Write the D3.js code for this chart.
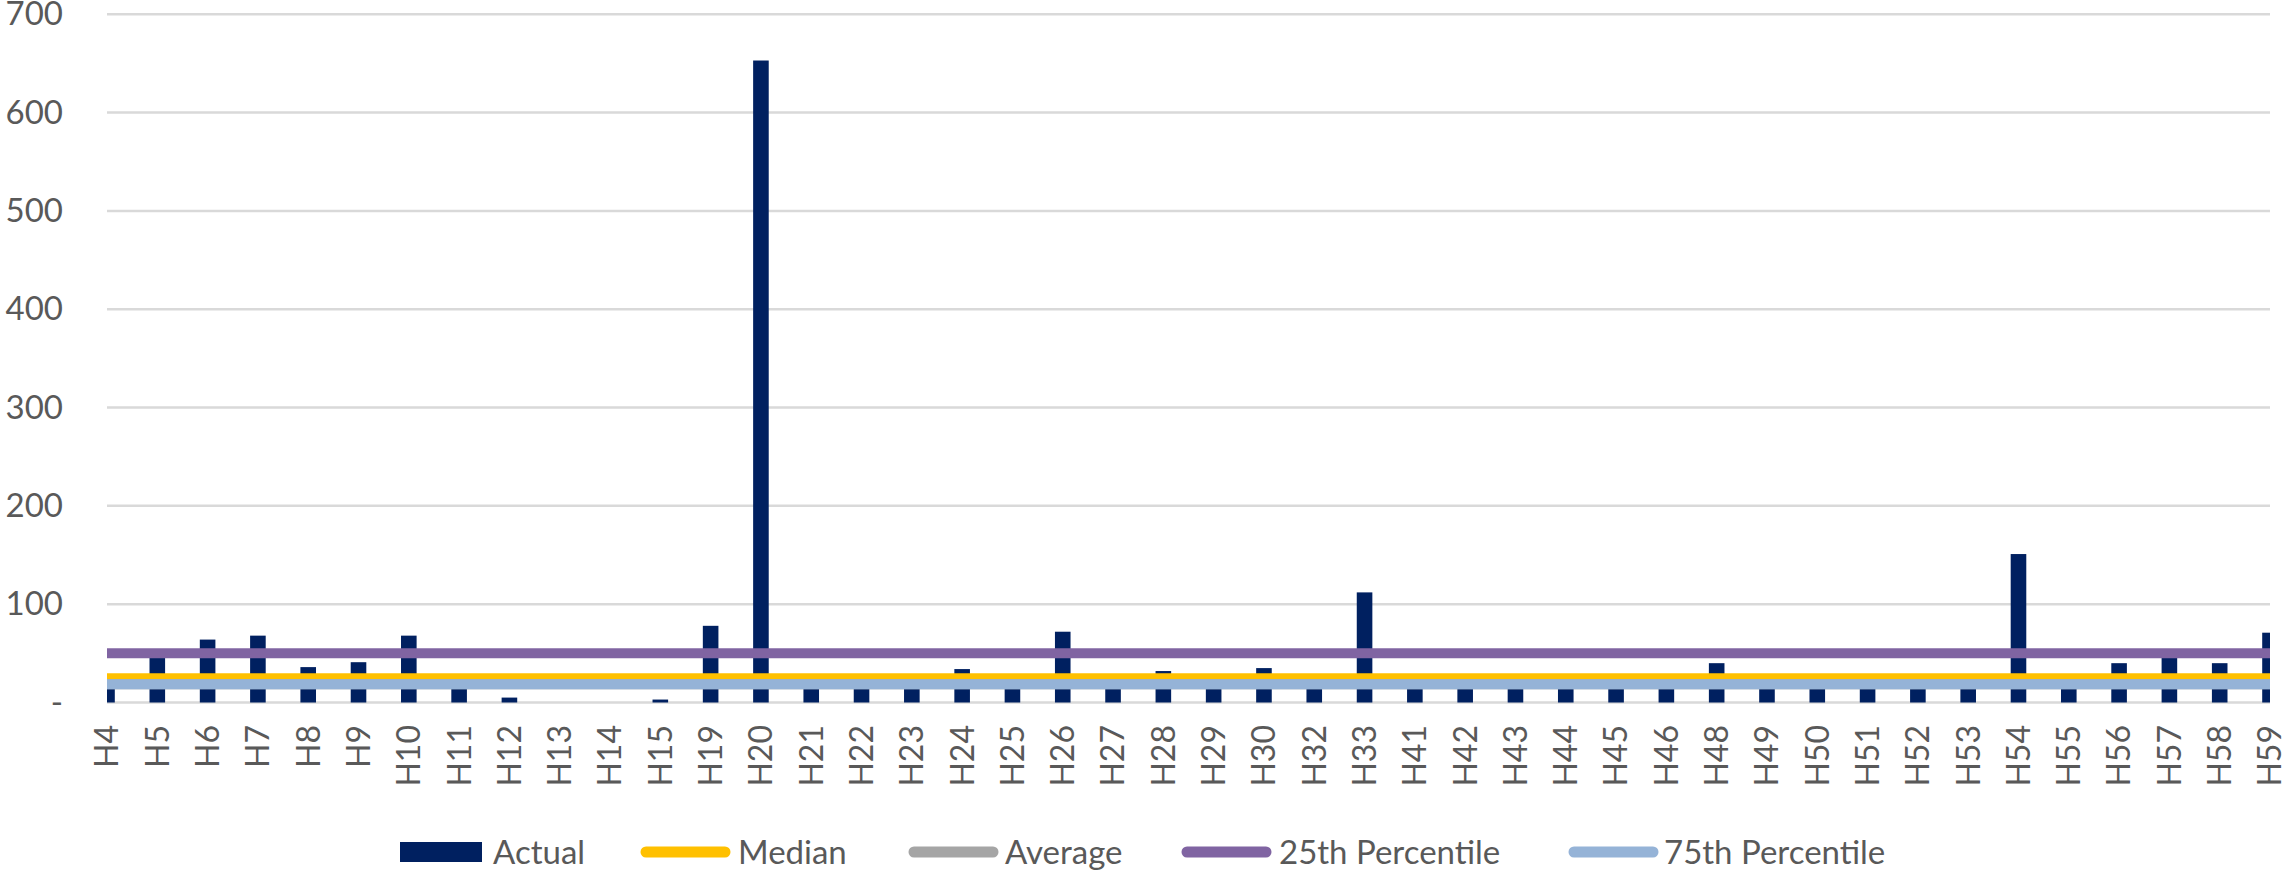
<!DOCTYPE html>
<html>
<head>
<meta charset="utf-8">
<script src="https://cdn.jsdelivr.net/npm/d3@7"></script>
<style>
  html, body { margin: 0; padding: 0; background: #ffffff; }
  svg { display: block; }
  text { font-family: Lato, "Open Sans", sans-serif; fill: #595959; }
</style>
</head>
<body>
<svg id="chart" width="2285" height="875"></svg>
<script>
// ---- data ----
const categories = ["H4","H5","H6","H7","H8","H9","H10","H11","H12","H13","H14","H15",
  "H19","H20","H21","H22","H23","H24","H25","H26","H27","H28","H29","H30",
  "H32","H33","H41","H42","H43","H44","H45","H46",
  "H48","H49","H50","H51","H52","H53","H54","H55","H56","H57","H58","H59"];
const actual = [22,50,64,68,36,41,68,22,5,0,0,3,
  78,653,22,22,22,34,22,72,22,32,22,35,
  22,112,22,22,22,22,22,22,
  40,22,22,22,22,22,151,22,40,48,40,71];
const median = 24.6;
const average = 18.5;
const pct25 = 50;
const pct75 = 18.5;
const yTicks = [0,100,200,300,400,500,600,700];
const legendLabels = ["Actual","Median","Average","25th Percentile","75th Percentile"];

// ---- layout ----
const svg = d3.select("#chart");
const plotLeft = 107, plotRight = 2270, plotTop = 14.3, plotBottom = 702.5;
const x = d3.scalePoint().domain(categories).range([plotLeft, plotRight]);
const y = d3.scaleLinear().domain([0, 700]).range([plotBottom, plotTop]);
const barW = x.step() * 0.31;

const colors = {
  actual: "#002060", median: "#FFC000", average: "#A5A5A5",
  p25: "#8064A2", p75: "#95B3D7"
};

svg.append("defs").append("clipPath").attr("id", "plotClip")
  .append("rect").attr("x", plotLeft).attr("y", 0).attr("width", plotRight - plotLeft).attr("height", 875);

// gridlines
svg.append("g").selectAll("line").data(yTicks).join("line")
  .attr("x1", plotLeft).attr("x2", plotRight)
  .attr("y1", d => y(d)).attr("y2", d => y(d))
  .attr("stroke", "#D9D9D9").attr("stroke-width", 2.5);

// y axis labels
const yAxis = d3.axisLeft(y).tickValues(yTicks).tickSize(0).tickPadding(0)
  .tickFormat(d => d === 0 ? "-" : d);
const yg = svg.append("g").attr("transform", "translate(63,0)").call(yAxis);
yg.select(".domain").remove();
yg.selectAll("text").attr("font-size", 33).attr("fill", "#595959")
  .style("font-family", "Lato, 'Open Sans', sans-serif");

// bars
svg.append("g").attr("clip-path", "url(#plotClip)")
  .selectAll("rect").data(categories).join("rect")
  .attr("x", (d) => x(d) - barW / 2)
  .attr("width", barW)
  .attr("y", (d, i) => y(actual[i]))
  .attr("height", (d, i) => y(0) - y(actual[i]))
  .attr("fill", colors.actual);

// horizontal reference series
const refSeries = [
  { v: median, c: colors.median },
  { v: average, c: colors.average },
  { v: pct25, c: colors.p25 },
  { v: pct75, c: colors.p75 }
];
const lineGen = d3.line().x(d => x(d.cat)).y(d => y(d.v));
svg.append("g").selectAll("path").data(refSeries).join("path")
  .attr("d", s => lineGen(categories.map(cat => ({ cat, v: s.v }))))
  .attr("fill", "none").attr("stroke", s => s.c).attr("stroke-width", 10);

// x axis labels
const xAxis = d3.axisBottom(x).tickSize(0).tickPadding(0);
const xg = svg.append("g").attr("transform", "translate(0,725)").call(xAxis);
xg.select(".domain").remove();
xg.selectAll("text")
  .attr("font-size", 32).attr("fill", "#595959")
  .style("font-family", "Lato, 'Open Sans', sans-serif")
  .attr("text-anchor", "end")
  .attr("transform", "rotate(-90)")
  .attr("x", 0).attr("y", 0).attr("dy", "0.34em").attr("dx", 0);

// legend
const legendY = 852;
const legendX = [400, 641, 909, 1182, 1569];
const legendTextX = [493, 738, 1005, 1279, 1664];
const legendColors = [colors.actual, colors.median, colors.average, colors.p25, colors.p75];
const lg = svg.append("g");
legendLabels.forEach((lab, i) => {
  if (i === 0) {
    lg.append("rect").attr("x", legendX[i]).attr("y", legendY - 10)
      .attr("width", 82).attr("height", 20).attr("fill", legendColors[i]);
  } else {
    lg.append("line").attr("x1", legendX[i] + 5).attr("x2", legendX[i] + 84)
      .attr("y1", legendY).attr("y2", legendY)
      .attr("stroke", legendColors[i]).attr("stroke-width", 11)
      .attr("stroke-linecap", "round");
  }
  lg.append("text").attr("x", legendTextX[i]).attr("y", legendY)
    .attr("dy", "0.36em").attr("font-size", 33).text(lab);
});
</script>
</body>
</html>
